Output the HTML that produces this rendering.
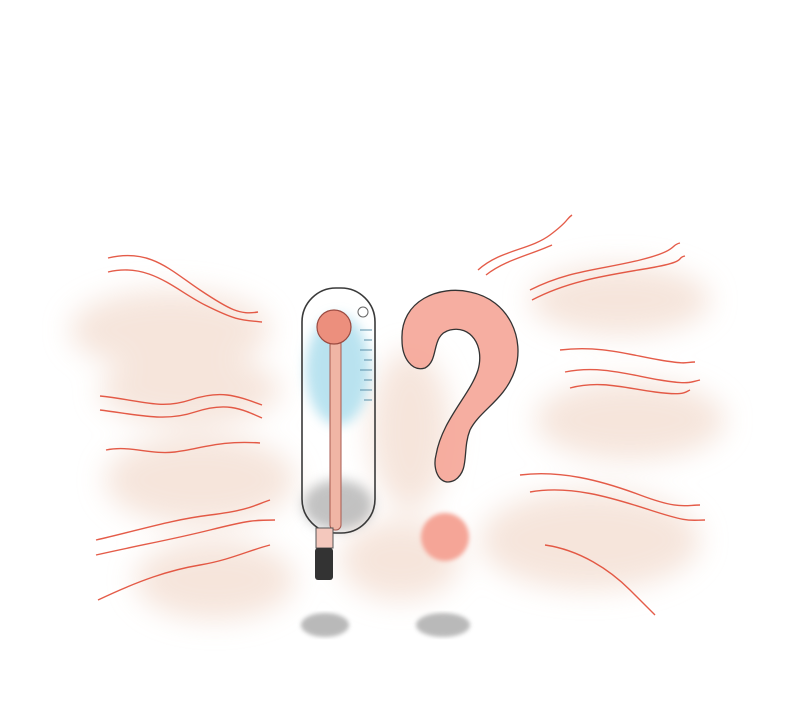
<!DOCTYPE html>
<html><head><meta charset="utf-8"><style>
html,body{margin:0;padding:0;background:#fff;width:800px;height:709px;overflow:hidden}
</style></head><body>
<svg width="800" height="709" viewBox="0 0 800 709" xmlns="http://www.w3.org/2000/svg">
<defs>
<filter id="blur" x="-30%" y="-30%" width="160%" height="160%"><feGaussianBlur stdDeviation="14"/></filter>
<filter id="blur2" x="-30%" y="-30%" width="160%" height="160%"><feGaussianBlur stdDeviation="6"/></filter>
<filter id="blur3"><feGaussianBlur stdDeviation="2"/></filter>
</defs>
<g fill="#f3ddd0" opacity="0.75" filter="url(#blur)">
<ellipse cx="170" cy="330" rx="100" ry="40"/>
<ellipse cx="190" cy="390" rx="90" ry="35"/>
<ellipse cx="200" cy="480" rx="95" ry="45"/>
<ellipse cx="215" cy="580" rx="80" ry="40"/>
<ellipse cx="620" cy="300" rx="90" ry="35"/>
<ellipse cx="630" cy="420" rx="95" ry="40"/>
<ellipse cx="590" cy="540" rx="110" ry="50"/>
<ellipse cx="410" cy="430" rx="40" ry="80"/>
<ellipse cx="400" cy="560" rx="60" ry="40"/>
</g>
<g fill="none" stroke="#e0402a" stroke-width="1.4" opacity="0.85">
<path d="M108 258 C150 248,170 270,200 290 S240 315,258 312"/>
<path d="M108 272 C150 262,175 290,205 305 S240 320,262 322"/>
<path d="M100 396 C140 400,160 410,190 400 S235 395,262 405"/>
<path d="M100 410 C140 415,165 422,195 412 S240 408,262 418"/>
<path d="M106 450 C130 445,150 455,175 452 S220 440,260 443"/>
<path d="M96 540 C140 530,170 520,210 515 S255 505,270 500"/>
<path d="M96 555 C140 545,170 540,210 530 S255 520,275 520"/>
<path d="M98 600 C140 580,170 570,200 565 S250 550,270 545"/>
<path d="M478 270 C500 250,530 250,550 235 S565 220,572 215"/>
<path d="M486 275 C505 260,530 255,552 245"/>
<path d="M530 290 C570 270,600 270,640 260 S670 245,680 243"/>
<path d="M532 300 C570 280,610 275,650 268 S675 258,685 256"/>
<path d="M560 350 C600 345,630 355,660 360 S685 362,695 362"/>
<path d="M565 372 C600 365,630 375,660 380 S690 382,700 380"/>
<path d="M570 388 C600 380,625 388,655 392 S685 392,690 390"/>
<path d="M520 475 C560 470,600 480,640 495 S685 505,700 505"/>
<path d="M530 492 C570 485,610 497,650 510 S690 520,705 520"/>
<path d="M545 545 C580 550,610 570,630 590 S650 610,655 615"/>
</g>
<g>
<ellipse cx="338" cy="370" rx="32" ry="55" fill="#a8dcec" opacity="0.8" filter="url(#blur2)"/>
<ellipse cx="338" cy="505" rx="35" ry="25" fill="#9a9a9a" opacity="0.6" filter="url(#blur2)"/>
<rect x="302" y="288" width="73" height="245" rx="34" fill="none" stroke="#3a3a3a" stroke-width="1.6"/>
<rect x="330" y="330" width="11" height="200" rx="5" fill="#f0b5a5" stroke="#a85a50" stroke-width="1"/>
<rect x="316" y="528" width="17" height="20" fill="#f4c8bd" stroke="#555" stroke-width="1"/>
<rect x="315" y="548" width="18" height="32" rx="3" fill="#333"/>
<circle cx="334" cy="327" r="17" fill="#ec8f7d" stroke="#9a4a40" stroke-width="1.2"/>
<circle cx="363" cy="312" r="5" fill="#fff" stroke="#666" stroke-width="1"/>
<g stroke="#5a8fa8" stroke-width="1">
<line x1="360" y1="330" x2="372" y2="330"/><line x1="364" y1="340" x2="372" y2="340"/>
<line x1="360" y1="350" x2="372" y2="350"/><line x1="364" y1="360" x2="372" y2="360"/>
<line x1="360" y1="370" x2="372" y2="370"/><line x1="364" y1="380" x2="372" y2="380"/>
<line x1="360" y1="390" x2="372" y2="390"/><line x1="364" y1="400" x2="372" y2="400"/>
</g>
</g>
<g>
<path d="M402 340 C400 300,440 285,470 292 C510 300,525 340,515 370 C505 400,480 410,470 430 C462 450,470 470,455 480 C440 488,432 470,436 455 C442 420,470 395,478 370 C485 345,470 325,450 330 C430 335,440 360,425 368 C412 372,402 358,402 340 Z" fill="#f5a597" fill-opacity="0.9" stroke="#333" stroke-width="1.3"/>
<circle cx="445" cy="537" r="24" fill="#f5a597" filter="url(#blur3)"/>
</g>
<g fill="#8c8c8c" opacity="0.6" filter="url(#blur3)">
<ellipse cx="325" cy="625" rx="24" ry="12"/>
<ellipse cx="443" cy="625" rx="27" ry="12"/>
</g>
</svg>
</body></html>
